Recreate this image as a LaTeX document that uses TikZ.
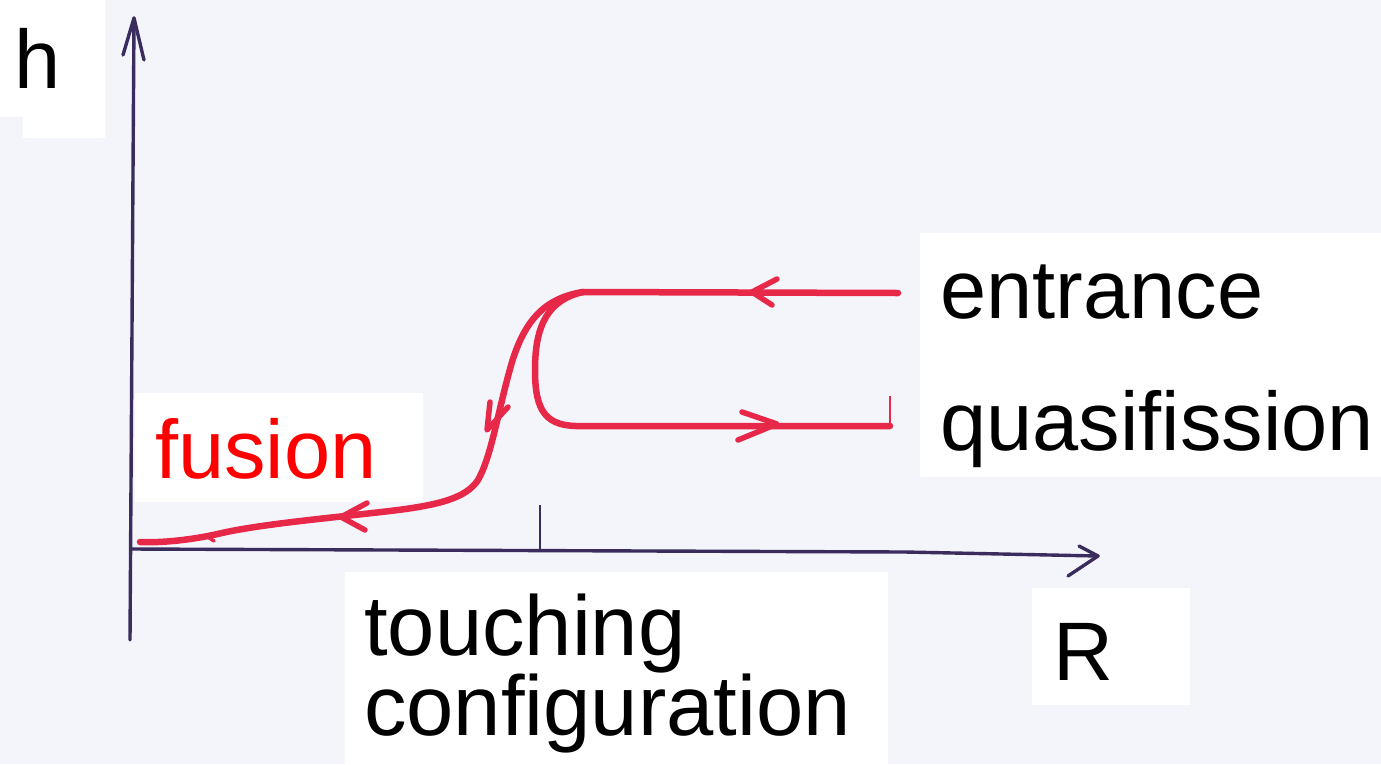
\documentclass[tikz,border=0pt]{standalone}
\usepackage{fontspec}
\setmainfont{Liberation Sans}
\definecolor{paper}{RGB}{244,245,251}
\definecolor{axisc}{RGB}{58,44,92}
\definecolor{pen}{RGB}{232,40,72}
\definecolor{lbl}{RGB}{255,0,0}
\begin{document}
\begin{tikzpicture}[x=1pt,y=-1pt,
  axisline/.style={draw=axisc,line width=3.4pt,line cap=round,line join=round},
  redline/.style={draw=pen,line width=6.5pt,line cap=round,line join=round},
  tip/.style={draw=pen,line width=5.5pt,line cap=round,line join=round},
  lab/.style={inner sep=0pt,anchor=base west,font=\fontsize{83}{90}\selectfont}]
\fill[paper] (0,0) rectangle (1381,764);
\useasboundingbox (0,0) rectangle (1381,764);
% white label boxes
\fill[white] (0,0) rectangle (105,117);
\fill[white] (23,0) rectangle (105,138);
\fill[white] (135,393) rectangle (423,502);
\fill[white] (345,572) rectangle (888,764);
\fill[white] (1032,588) rectangle (1190,705);
\fill[white] (920,233) rectangle (1381,477);
% labels
\node[lab] (h) at (14,88) {h};
\node[lab,text=lbl] (fus) at (155,478) {fusion};
\node[lab] (ent) at (940,318) {entrance};
\node[lab] (qf) at (940,450) {quasifission};
\node[lab,font=\fontsize{85}{90}\selectfont] (tc1) at (364,655) {touching};
\node[lab,font=\fontsize{85}{90}\selectfont] (tc2) at (364,735) {configuration};
\node[lab] (R) at (1053,680) {R};
% axes
\coordinate (O) at (131,549);
\coordinate (ytop) at (134,18);
\coordinate (ybot) at (130,640);
\coordinate (xend) at (1098,556);
\coordinate (xmid) at (905,552);
\draw[axisline] (ybot) -- (ytop);
\draw[axisline] (123,55) -- (ytop) -- (144,60);
\draw[axisline] (O) -- (xmid) -- (xend);
\draw[axisline] (1079,546) -- (xend) -- (1068,576);
\coordinate (tickt) at (540,505);
\coordinate (tickb) at (540,551);
\draw[axisc,line width=2.4pt] (tickt) -- (tickb);
% red trajectories
\coordinate (ein) at (898,293);
\coordinate (split) at (583,292);
\coordinate (fend) at (140,542);
\coordinate (qend) at (890,426);
\draw[redline] (ein) -- (split);
\draw[redline] (split) .. controls (545,298) and (525,320) .. (512,362)
  .. controls (498,410) and (492,455) .. (478,480)
  .. controls (466,498) and (440,505) .. (390,511)
  .. controls (330,518) and (262,524) .. (222,533)
  .. controls (192,540) and (162,543) .. (fend);
\draw[redline] (split) .. controls (548,300) and (535,325) .. (535,370)
  .. controls (535,412) and (546,427) .. (582,426) -- (qend);
\draw[pen,line width=1.5pt] (890,396) -- (qend);
% arrow heads
\draw[tip] (777,279) -- (752,292) -- (772,305);
\draw[tip] (742,412) -- (777,424) -- (738,440);
\draw[tip] (490,402) -- (487,430) -- (508,407);
\draw[tip] (367,503) -- (341,517) -- (365,530);
\draw[pen,line width=3.5pt,line cap=round] (226,531) -- (208,537) -- (214,541);
\end{tikzpicture}
\end{document}
